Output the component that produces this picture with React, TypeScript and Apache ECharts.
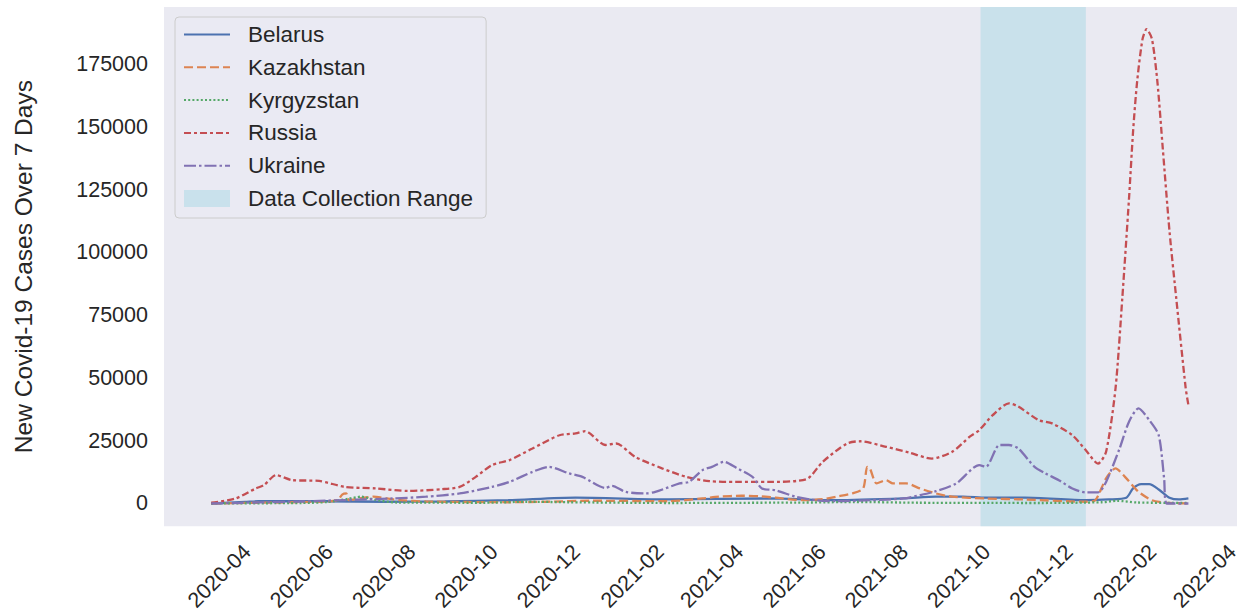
import React, { useEffect, useRef } from "react";
import * as echarts from "echarts";

const seriesNames = ["Belarus", "Kazakhstan", "Kyrgyzstan", "Russia", "Ukraine"];
const rangeName = "Data Collection Range";
const rangeStart = "2021-10-17";
const rangeEnd = "2022-01-03";

const xTickLabels = [
  "2020-04", "2020-06", "2020-08", "2020-10", "2020-12", "2021-02", "2021-04",
  "2021-06", "2021-08", "2021-10", "2021-12", "2022-02", "2022-04",
];
const yTickValues = [0, 25000, 50000, 75000, 100000, 125000, 150000, 175000];

const belarus: [string, number][] = [
  ["2020-03-26", 0], ["2020-04-20", 600], ["2020-04-30", 900], ["2020-06-19", 900],
  ["2020-08-01", 700], ["2020-09-15", 800], ["2020-11-01", 1300], ["2020-12-21", 2300],
  ["2021-02-28", 1600], ["2021-05-13", 2000], ["2021-07-02", 1300], ["2021-08-21", 2000],
  ["2021-09-14", 2700], ["2021-10-04", 2700], ["2021-10-21", 2300], ["2021-11-19", 2300],
  ["2022-01-03", 1300], ["2022-01-20", 1600], ["2022-02-02", 2300], ["2022-02-07", 6000],
  ["2022-02-13", 7700], ["2022-02-19", 7700], ["2022-02-26", 5600], ["2022-03-06", 2300],
  ["2022-03-13", 1600], ["2022-03-20", 2000],
];

const kazakhstan: [string, number][] = [
  ["2020-03-26", 0], ["2020-05-01", 300], ["2020-06-20", 800], ["2020-06-28", 1500],
  ["2020-07-01", 3500], ["2020-07-04", 4000], ["2020-07-06", 1300], ["2020-07-14", 2000],
  ["2020-07-24", 2700], ["2020-08-03", 2000], ["2020-08-13", 1300], ["2020-09-01", 800],
  ["2020-10-01", 600], ["2020-11-01", 500], ["2020-12-01", 700], ["2021-01-01", 1100],
  ["2021-02-28", 900], ["2021-03-25", 2000], ["2021-04-06", 2700], ["2021-04-23", 3100],
  ["2021-05-06", 2900], ["2021-05-18", 2300], ["2021-06-07", 1300], ["2021-06-22", 1700],
  ["2021-07-02", 2700], ["2021-07-14", 4000], ["2021-07-22", 6000], ["2021-07-25", 14600],
  ["2021-07-27", 14000], ["2021-08-01", 8000], ["2021-08-08", 9300], ["2021-08-13", 8000],
  ["2021-08-23", 8000], ["2021-09-02", 6000], ["2021-09-14", 4000], ["2021-09-26", 2700],
  ["2021-10-21", 2000], ["2021-11-19", 1600], ["2022-01-03", 700], ["2022-01-10", 1300],
  ["2022-01-18", 10000], ["2022-01-25", 14000], ["2022-02-01", 10600], ["2022-02-11", 4700],
  ["2022-02-21", 1300], ["2022-03-03", 300], ["2022-03-20", 0],
];

const kyrgyzstan: [string, number][] = [
  ["2020-03-26", 0], ["2020-06-01", 200], ["2020-06-20", 600], ["2020-07-05", 1800],
  ["2020-07-15", 2700], ["2020-07-25", 1500], ["2020-08-10", 400], ["2020-10-15", 300],
  ["2020-11-15", 700], ["2020-12-15", 500], ["2021-03-01", 200], ["2021-06-15", 400],
  ["2021-07-15", 600], ["2021-09-01", 300], ["2021-12-01", 200], ["2022-01-15", 500],
  ["2022-01-26", 1100], ["2022-02-10", 400], ["2022-03-20", 200],
];

const russia: [string, number][] = [
  ["2020-03-26", 300], ["2020-04-13", 2000], ["2020-04-28", 6000], ["2020-05-04", 7300],
  ["2020-05-13", 11300], ["2020-05-25", 9300], ["2020-06-14", 9000], ["2020-07-03", 6600],
  ["2020-07-26", 6000], ["2020-08-19", 5000], ["2020-09-13", 5700], ["2020-09-26", 6600],
  ["2020-10-08", 10600], ["2020-10-20", 15300], ["2020-11-02", 17300], ["2020-11-19", 21900],
  ["2020-12-09", 27200], ["2020-12-21", 27900], ["2020-12-28", 28800], ["2021-01-12", 23300],
  ["2021-01-20", 23900], ["2021-02-03", 18600], ["2021-02-23", 14000], ["2021-03-13", 10600],
  ["2021-03-30", 8900], ["2021-04-19", 8600], ["2021-05-13", 8600], ["2021-06-10", 9700],
  ["2021-06-22", 16600], ["2021-07-10", 23900], ["2021-07-20", 24800], ["2021-08-08", 22600],
  ["2021-08-25", 20300], ["2021-09-11", 17900], ["2021-09-26", 20600], ["2021-10-09", 26600],
  ["2021-10-16", 29200], ["2021-10-26", 35200], ["2021-11-07", 39900], ["2021-11-14", 38600],
  ["2021-11-29", 33200], ["2021-12-09", 31900], ["2021-12-24", 27200], ["2022-01-03", 21200],
  ["2022-01-12", 15900], ["2022-01-18", 20600], ["2022-01-25", 45900], ["2022-01-30", 81700],
  ["2022-02-04", 121600], ["2022-02-07", 148200], ["2022-02-10", 168100], ["2022-02-14", 185000],
  ["2022-02-17", 189000], ["2022-02-21", 185000], ["2022-02-25", 168100], ["2022-03-01", 141500],
  ["2022-03-06", 108400], ["2022-03-11", 81700], ["2022-03-18", 45900], ["2022-03-20", 39200],
];

const ukraine: [string, number][] = [
  ["2020-03-26", 0], ["2020-05-30", 800], ["2020-08-07", 2000], ["2020-09-01", 2700],
  ["2020-09-26", 4000], ["2020-10-20", 6600], ["2020-11-02", 8600], ["2020-11-19", 12600],
  ["2020-12-01", 14600], ["2020-12-16", 12000], ["2020-12-26", 10600], ["2021-01-12", 6200],
  ["2021-01-17", 7000], ["2021-01-27", 4600], ["2021-02-11", 4000], ["2021-02-18", 4600],
  ["2021-03-08", 8000], ["2021-03-15", 8600], ["2021-03-25", 13300], ["2021-04-01", 14600],
  ["2021-04-10", 16600], ["2021-04-19", 14200], ["2021-05-01", 10600], ["2021-05-08", 6000],
  ["2021-05-18", 5300], ["2021-06-02", 2700], ["2021-06-17", 1300], ["2021-07-02", 900],
  ["2021-07-27", 1300], ["2021-08-21", 2000], ["2021-09-02", 3300], ["2021-09-14", 4900],
  ["2021-09-29", 8000], ["2021-10-16", 15300], ["2021-10-21", 14600], ["2021-10-31", 23300],
  ["2021-11-07", 23300], ["2021-11-14", 21900], ["2021-11-26", 14600], ["2021-12-04", 12000],
  ["2021-12-14", 9300], ["2021-12-24", 6000], ["2022-01-03", 4400], ["2022-01-12", 4400],
  ["2022-01-18", 8600], ["2022-01-28", 21900], ["2022-02-04", 32600], ["2022-02-11", 37900],
  ["2022-02-19", 33200], ["2022-02-26", 27200], ["2022-03-02", 10000], ["2022-03-04", 0],
  ["2022-03-20", 0],
];

const xMinDate = "2020-02-20";
const xMaxDate = "2022-04-25";
const yMin = -9050;
const yMax = 197800;

const ts = (d: string) => {
  const [y, m, day] = d.split("-").map(Number);
  return Date.UTC(y, m - 1, day || 1);
};
const toPoints = (arr: [string, number][]) => arr.map(([d, v]) => [ts(d), v]);

const FONT = "Liberation Sans, Arial, sans-serif";
const TXT = "#262626";
const colors = ["#4C72B0", "#DD8452", "#55A868", "#C44E52", "#8172B3"];
const dashes: any[] = ["solid", [9, 4], [2, 2.2], [7, 3, 3, 3], [12, 3, 2.5, 3]];
const rangeColor = "rgba(173,216,230,0.55)";

export default function App() {
  const ref = useRef<HTMLDivElement>(null);
  useEffect(() => {
    if (!ref.current) return;
    const chart = echarts.init(ref.current, null, { renderer: "svg" });
    const datasets = [belarus, kazakhstan, kyrgyzstan, russia, ukraine];
    const lineSeries = seriesNames.map((name, i) => ({
      name,
      type: "line",
      data: toPoints(datasets[i]),
      showSymbol: false,
      symbol: "none",
      smooth: 0.25,
      z: 3,
      lineStyle: { color: colors[i], width: 2.3, type: dashes[i] },
      itemStyle: { color: colors[i] },
    }));
    const option: any = {
      animation: false,
      backgroundColor: "#ffffff",
      textStyle: { fontFamily: FONT },
      grid: {
        left: 164, top: 7, right: 6, bottom: 86,
        show: true, backgroundColor: "#EAEAF2", borderWidth: 0, containLabel: false,
      },
      legend: {
        orient: "vertical",
        left: 175,
        top: 17,
        padding: [6, 13, 8, 8],
        itemWidth: 46,
        itemHeight: 17,
        itemGap: 9.8,
        backgroundColor: "rgba(234,234,242,0.8)",
        borderColor: "#CCCCCC",
        borderWidth: 1,
        borderRadius: 4,
        itemStyle: { opacity: 0 },
        textStyle: { fontSize: 22.5, color: TXT, fontFamily: FONT, padding: [0, 0, 0, 13] },
        data: [
          ...seriesNames,
          { name: rangeName, icon: "rect", itemStyle: { color: rangeColor, opacity: 1 } },
        ],
      },
      xAxis: {
        type: "value",
        min: ts(xMinDate),
        max: ts(xMaxDate),
        axisLine: { show: false },
        axisTick: { show: false },
        splitLine: { show: false },
        axisLabel: {
          customValues: xTickLabels.map((t) => ts(t)),
          rotate: 45,
          align: "center",
          verticalAlign: "middle",
          margin: 50,
          fontSize: 21.5,
          color: TXT,
          fontFamily: FONT,
          formatter: (v: number) => {
            const d = new Date(v);
            return d.getUTCFullYear() + "-" + String(d.getUTCMonth() + 1).padStart(2, "0");
          },
        },
      },
      yAxis: {
        type: "value",
        min: yMin,
        max: yMax,
        name: "New Covid-19 Cases Over 7 Days",
        nameLocation: "middle",
        nameGap: 128,
        nameTextStyle: { fontSize: 24.5, color: TXT, fontFamily: FONT },
        axisLine: { show: false },
        axisTick: { show: false },
        splitLine: { show: false },
        axisLabel: {
          customValues: yTickValues,
          margin: 16,
          fontSize: 21.5,
          color: TXT,
          fontFamily: FONT,
          formatter: (v: number) => String(v),
        },
      },
      series: [
        ...lineSeries,
        {
          name: rangeName,
          type: "line",
          data: [],
          z: 1,
          itemStyle: { color: rangeColor },
          markArea: {
            silent: true,
            itemStyle: { color: rangeColor },
            data: [[{ xAxis: ts(rangeStart) }, { xAxis: ts(rangeEnd) }]],
          },
        },
      ],
    };
    chart.setOption(option);
    return () => chart.dispose();
  }, []);
  return (
    <div
      ref={ref}
      style={{ position: "absolute", left: 0, top: 0, width: 1243, height: 614 }}
    />
  );
}
